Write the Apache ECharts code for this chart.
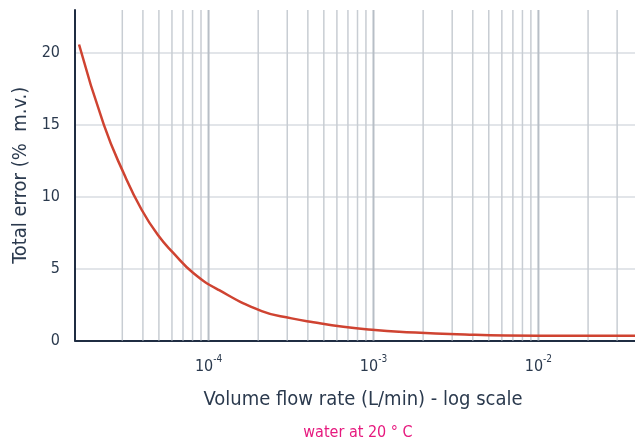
<!DOCTYPE html>
<html>
<head>
<meta charset="utf-8">
<script src="https://cdn.jsdelivr.net/npm/echarts@6/dist/echarts.min.js"></script>
<style>html,body{margin:0;padding:0;background:#fff}#c{width:635px;height:445px}</style>
</head>
<body>
<div id="c"></div>
<script>
// Volume flow rate (L/min)
var flowRate = [1.64e-5, 2.32e-5, 3.07e-5, 3.93e-5, 4.96e-5, 6.11e-5, 8.08e-5, 1.16e-4, 2.1e-4, 3.19e-4, 4.32e-4, 6.56e-4, 1.02e-3, 1.43e-3, 3.2e-3, 9.9e-3, 3.85e-2];
// Total error (% m.v.)
var totalError = [20.6, 15.0, 11.6, 9.1, 7.3, 6.1, 4.7, 3.5, 2.05, 1.54, 1.27, 0.96, 0.73, 0.61, 0.43, 0.33, 0.33];
// vertical grid lines (log scale)
var majorGrid = [1e-4, 1e-3, 1e-2];
var minorGrid = [3e-5, 4e-5, 5e-5, 6e-5, 7e-5, 8e-5, 9e-5,
  2e-4, 3e-4, 4e-4, 5e-4, 6e-4, 7e-4, 8e-4, 9e-4,
  2e-3, 3e-3, 4e-3, 5e-3, 6e-3, 7e-3, 8e-3, 9e-3,
  2e-2, 3e-2];
var yTicks = [0, 5, 10, 15, 20];
var yMin = 0, yMax = 23;
var xName = 'Volume flow rate (L/min) - log scale';
var yName = 'Total error (%  m.v.)';
var note = 'water at 20 ° C';

var FONT = "'Liberation Sans Narrow', 'DejaVu Sans Condensed', Roboto, sans-serif";
var TXT = '#2b3a4e';

function vLines(vals) {
  var d = [];
  vals.forEach(function (v) { d.push([v, yMin], [v, yMax], [v, null]); });
  return d;
}

var chart = echarts.init(document.getElementById('c'), null, {renderer: 'canvas'});
chart.setOption({
  animation: false,
  grid: {left: 75, right: 0, top: 10, bottom: 104.5, containLabel: false},
  xAxis: {
    type: 'log', logBase: 10, min: 1.55e-5, max: 3.85e-2,
    name: xName, nameLocation: 'middle', nameGap: 49,
    nameTextStyle: {fontFamily: FONT, fontSize: 20, color: TXT, padding: [0, 0, 0, 16]},
    axisLine: {show: true, lineStyle: {color: '#1f2d42', width: 2}},
    axisTick: {show: false},
    axisLabel: {
      showMinLabel: false, showMaxLabel: false, margin: 14,
      formatter: function (v) {
        var e = Math.round(Math.log10(v));
        if (Math.abs(v / Math.pow(10, e) - 1) > 1e-6) return '';
        return '{b|10}{s|' + e + '}';
      },
      rich: {
        b: {fontFamily: FONT, fontSize: 16, color: TXT, lineHeight: 20, verticalAlign: 'bottom'},
        s: {fontFamily: FONT, fontSize: 10, color: TXT, lineHeight: 20, verticalAlign: 'top', padding: [0, 0, 8, 0]}
      }
    },
    splitLine: {show: false},
    minorTick: {show: false}, minorSplitLine: {show: false}
  },
  yAxis: {
    type: 'value', min: yMin, max: yMax, interval: 5,
    name: yName, nameLocation: 'middle', nameGap: 43, nameRotate: 90,
    nameTextStyle: {fontFamily: FONT, fontSize: 20, color: TXT},
    axisLine: {show: true, lineStyle: {color: '#1f2d42', width: 2}},
    axisTick: {show: false},
    axisLabel: {fontFamily: FONT, fontSize: 16, color: TXT, margin: 15,
      formatter: function (v) { return yTicks.indexOf(v) >= 0 ? String(v) : ''; }},
    splitLine: {show: true, showMaxLine: false, showMinLine: false, lineStyle: {color: '#d8dde2', width: 1.5}}
  },
  graphic: [{
    type: 'text', x: 358, y: 433,
    style: {text: note, fontFamily: FONT, fontSize: 16, fill: '#e6197e', textAlign: 'center', textVerticalAlign: 'middle'}
  }],
  series: [{
    type: 'line', z: 1, silent: true, symbol: 'none', connectNulls: false,
    lineStyle: {color: '#c8cdd3', width: 1.5},
    data: vLines(minorGrid)
  }, {
    type: 'line', z: 1, silent: true, symbol: 'none', connectNulls: false,
    lineStyle: {color: '#b7bec6', width: 2},
    data: vLines(majorGrid)
  }, {
    type: 'line', smooth: 0.5, symbol: 'none', z: 3,
    lineStyle: {color: '#cf4331', width: 2.5},
    data: flowRate.map(function (x, i) { return [x, totalError[i]]; })
  }]
});
</script>
</body>
</html>
